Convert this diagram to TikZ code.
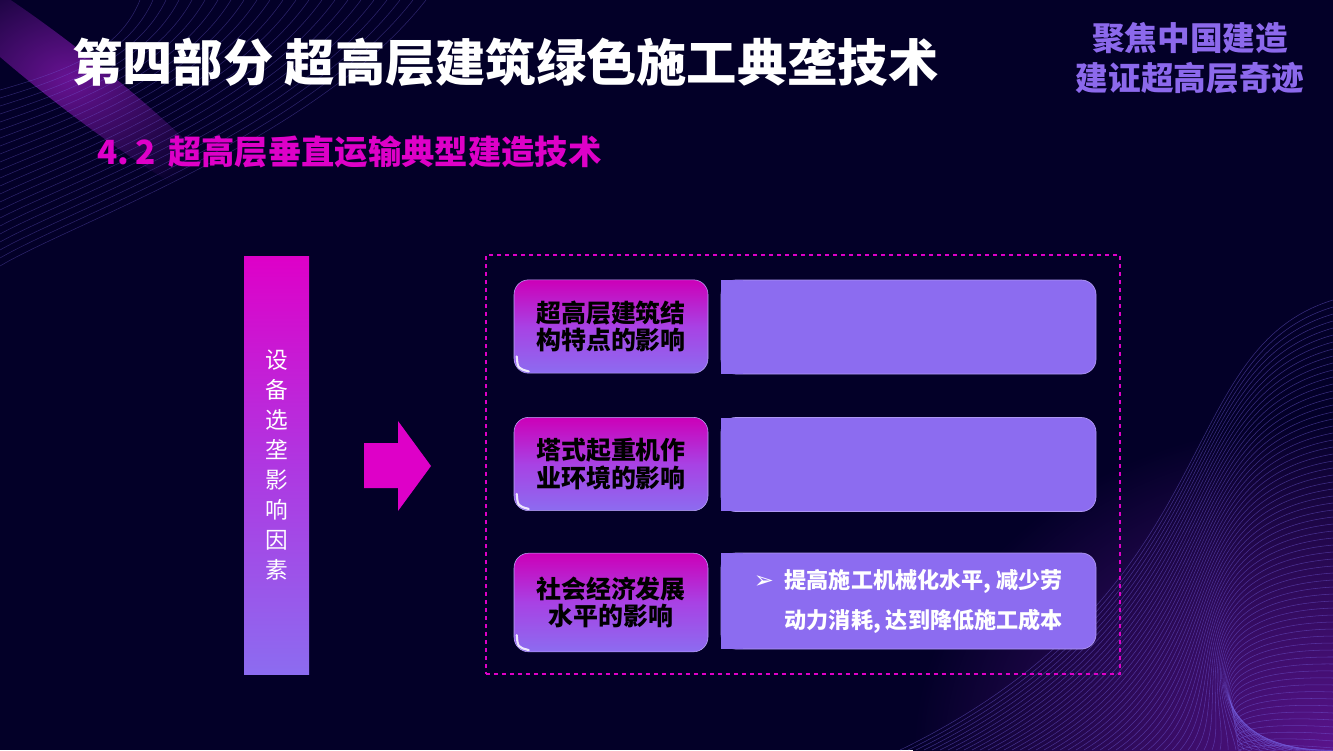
\documentclass[tikz,border=0pt]{standalone}
\usepackage{fontspec}
\setmainfont{Noto Sans CJK SC}
\newfontfamily\symfont{DejaVu Sans}
\usetikzlibrary{positioning}

\definecolor{bgnavy}{RGB}{3,0,40}
\definecolor{mag}{RGB}{222,0,200}
\definecolor{lav}{RGB}{140,108,240}
\definecolor{midpurp}{RGB}{175,55,225}
\definecolor{slogan}{RGB}{140,105,236}
\definecolor{wavecol}{RGB}{120,100,230}
\definecolor{glow}{RGB}{90,20,140}

\begin{document}
\begin{tikzpicture}[x=0.75pt, y=-0.75pt,
 titletext/.style={text=white, anchor=west, inner sep=0pt, font=\fontsize{37.7}{42}\selectfont\bfseries},
 subtext/.style={text=mag, anchor=west, inner sep=0pt, font=\fontsize{25}{28}\selectfont\bfseries},
 slogantext/.style={text=slogan, align=center, inner sep=0pt, font=\fontsize{24.5}{30}\selectfont\bfseries},
 factorbar/.style={minimum width=48.75pt, minimum height=313.5pt, inner sep=0pt,
   top color=mag, bottom color=lav, middle color=midpurp, text=white, align=center,
   font=\fontsize{17}{22.5}\selectfont},
 factor/.style={rounded corners=11pt, minimum width=145.5pt, minimum height=70pt, inner sep=0pt,
   top color=mag!92!black, bottom color=lav, middle color=midpurp!80!lav, draw=lav!60!white, line width=0.4pt,
   align=center, font=\fontsize{18.7}{20.5}\selectfont\bfseries},
 effect/.style={rounded corners=11pt, minimum width=281.25pt, minimum height=70.5pt, inner sep=0pt,
   fill=lav, draw=lav!70!white, line width=0.5pt, text=white, align=left,
   font=\fontsize{16.6}{30}\selectfont\bfseries},
 frame/.style={draw=mag, dashed, line width=0.9pt, minimum width=475.5pt, minimum height=314.25pt},
 wave/.style={wavecol, line width=0.4pt, opacity=0.35},
 shine/.style={white, line width=1.6pt, line cap=round, opacity=0.85}]

% background
\fill[bgnavy] (0,0) rectangle (1333,750);
\useasboundingbox (0,0) rectangle (1333,750);
\begin{scope}
\clip (0,0) rectangle (1333,750);
\shade[inner color=glow, outer color=bgnavy] (1333,750) ellipse (420 and 330);
\shade[inner color=glow!90!mag, outer color=bgnavy, rotate around={-38:(70,78)}]
  (70,78) ellipse (210 and 28);
\foreach \k in {0,...,22}
  \draw[wave] ({140+\k*13},0) .. controls ({120+\k*9},{50+\k*4}) and (70,{70+\k*7}) .. (0,{90+\k*8});
\foreach \k in {0,...,64}
  \draw[wave, opacity=0.45] (1333,{300+\k*7}) .. controls (1170,{350+\k*6}) and (1230,{590+\k*3}) .. ({900+\k*8},750);
\end{scope}

% headings
\node[titletext] (title) at (72,62) {第四部分 超高层建筑绿色施工典垄技术};
\node[slogantext] (slogan) at (1190,58) {聚焦中国建造\\建证超高层奇迹};
\node[subtext] (sub) at (97,152) {4.\hspace{5pt}2\hspace{9pt}超高层垂直运输典型建造技术};

% left bar and arrow
\node[factorbar] (bar) at (276.5,465) {设\\备\\选\\垄\\影\\响\\因\\素};
\fill[mag] (364,443) -- (398,443) -- (398,421) -- (431,466) -- (398,511) -- (398,488) -- (364,488) -- cycle;

% factors
\node[frame] (grp) at (803,464.5) {};
\node[factor] (f1) at (611,326.5) {超高层建筑结\\构特点的影响};
\node[factor] (f2) at (611,464) {塔式起重机作\\业环境的影响};
\node[factor, minimum height=74pt] (f3) at (611,602.5) {社会经济发展\\水平的影响};
\foreach \f in {f1,f2,f3}
  \draw[shine] ([shift={(3,-17)}]\f.south west) .. controls ([shift={(4,-5)}]\f.south west) .. ([shift={(15,-2)}]\f.south west);

\node[effect] (e1) at (908.5,327) {};
\node[effect] (e2) at (908.5,464.5) {};
\node[effect, minimum height=72pt] (e3) at (908.5,601) {%
  \makebox[23pt][l]{\symfont\fontsize{18}{18}\selectfont\char"27A2}提高施工机械化水平, 减少劳\\
  \hspace*{23pt}动力消耗, 达到降低施工成本};
\foreach \e in {e1,e2,e3}
  \fill[lav] ([shift={(0.6,-0.6)}]\e.south west) rectangle ([shift={(22,0.6)}]\e.north west);
\end{tikzpicture}
\end{document}
